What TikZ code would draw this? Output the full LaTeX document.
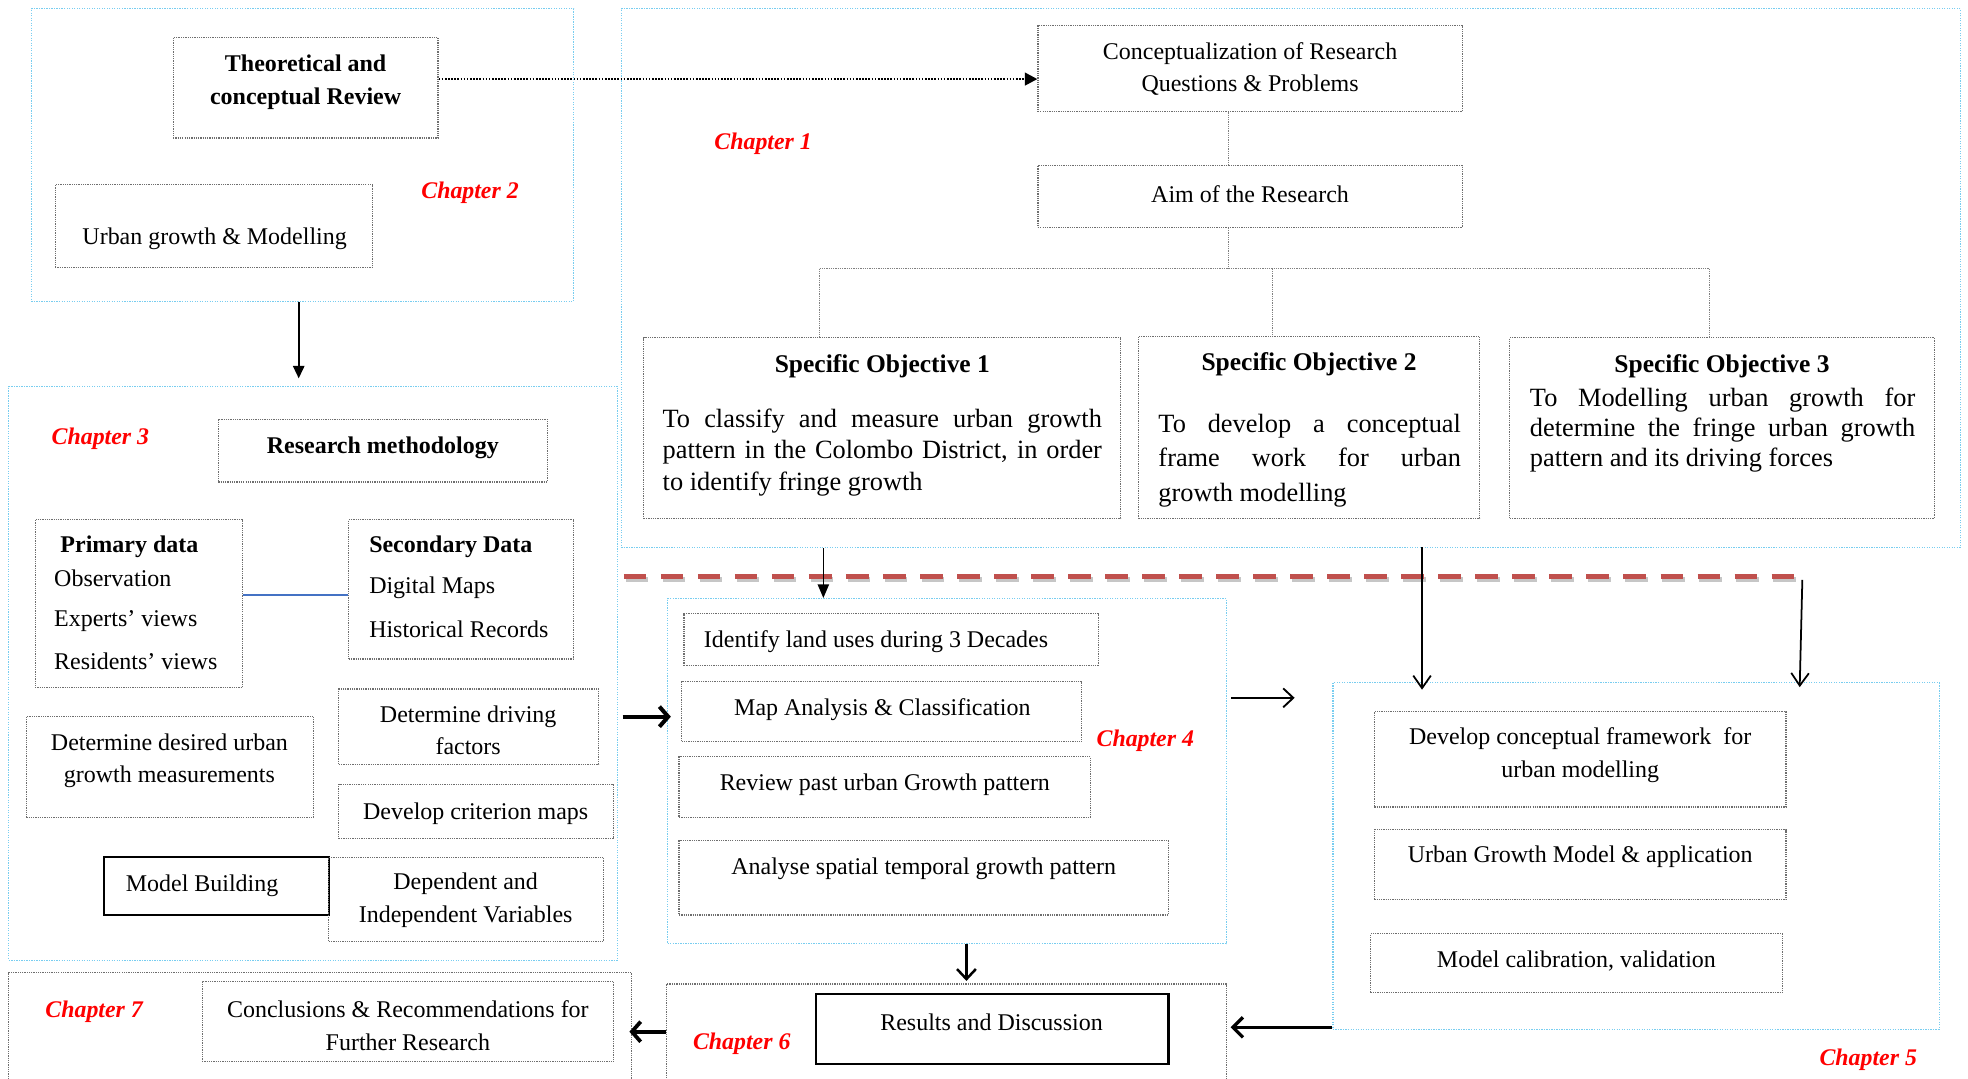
\documentclass[tikz,border=0pt]{standalone}
\usepackage{fontspec}
\setmainfont{Liberation Serif}
\usetikzlibrary{arrows.meta,fit,calc}
\definecolor{chblue}{RGB}{120,205,240}
\definecolor{boxgray}{RGB}{110,110,110}
\definecolor{dashred}{RGB}{192,80,77}
\definecolor{linkblue}{RGB}{68,114,196}
\newcommand\fsn{\fontsize{19.1}{26}\selectfont}
\newcommand\fst{\fontsize{20.3}{25}\selectfont\bfseries}
\newcommand\fsc{\fontsize{19}{23}\selectfont\bfseries\itshape}
\begin{document}
\begin{tikzpicture}[x=1pt,y=-1pt,
  chap/.style={draw=chblue, line width=1pt, dash pattern=on 1pt off 1pt, inner sep=0pt},
  gbox/.style={draw=boxgray, line width=0.9pt, dash pattern=on 1pt off 0.8pt, inner sep=0pt},
  sbox/.style={draw=black, line width=1.8pt, inner sep=0pt},
  txt/.style={font=\fsn, inner sep=0pt, align=center, yshift=-2.5pt},
  btxt/.style={font=\fsn\bfseries, inner sep=0pt, align=center, yshift=-2.5pt},
  ttxt/.style={font=\fst, inner sep=0pt, align=center, yshift=-2.5pt},
  chlab/.style={font=\fsc, text=red, inner sep=0pt, yshift=-2.5pt},
  otxt/.style={inner sep=0pt, align=justify, yshift=-2.5pt},
  tree/.style={draw=gray, line width=0.7pt, dash pattern=on 1pt off 0.8pt},
  barb/.style={-{Straight Barb[length=8pt,width=15pt]}},
  tri/.style={-{Triangle[length=10pt,width=9pt]}}
]
\useasboundingbox (0,0) rectangle (1568,859);
\clip (0,0) rectangle (1568,859);
\fill[white] (0,0) rectangle (1568,859);

% ---------- Chapter 2
\node[chap, fit={(25,7) (457,240)}] (ch2) {};
\node[gbox, fit={(138,30) (349,110)}] (theory) {};
\node[btxt] (theoryT) at (243.5,63) {Theoretical and\\conceptual Review};
\node[gbox, fit={(44,147) (297,213)}] (ugm) {};
\node[txt] (ugmT) at (171,188) {Urban growth \& Modelling};
\node[chlab] (lab2) at (374.5,151) {Chapter 2};

% ---------- Chapter 1
\node[chap, fit={(495,7) (1562,436)}] (ch1) {};
\node[gbox, fit={(827,20) (1165,89)}] (concept) {};
\node[txt] (conceptT) at (996,52.5) {Conceptualization of Research\\Questions \& Problems};
\node[gbox, fit={(827,132) (1165,181)}] (aim) {};
\node[txt] (aimT) at (996,152) {Aim of the Research};
\node[chlab] (lab1) at (608,112) {Chapter 1};

\node[gbox, fit={(513,269) (893,413)}] (so1) {};
\node[ttxt] (so1h) at (703,289) {Specific Objective 1};
\node[otxt, text width=350pt, font=\fontsize{21}{25}\selectfont] (so1T) at (703,358)
  {To classify and measure urban growth\linebreak pattern in the Colombo District, in order\linebreak to identify fringe growth};
\node[gbox, fit={(907,268) (1179,413)}] (so2) {};
\node[ttxt] (so2h) at (1043,288) {Specific Objective 2};
\node[otxt, text width=241pt, font=\fontsize{21}{27.5}\selectfont] (so2T) at (1043.5,364.5)
  {To develop a conceptual\linebreak frame work for urban\linebreak growth modelling};
\node[gbox, fit={(1203,269) (1541,413)}] (so3) {};
\node[ttxt] (so3h) at (1372,289) {Specific Objective 3};
\node[otxt, text width=307pt, font=\fontsize{21}{24}\selectfont] (so3T) at (1372.5,340)
  {To Modelling urban growth for\linebreak determine the fringe urban growth\linebreak pattern and its driving forces};

\coordinate (j) at (979,214);
\coordinate (j1) at (653,214);
\coordinate (j2) at (1014,214);
\coordinate (j3) at (1362,214);
\draw[tree] (concept.south -| j) -- (aim.north -| j);
\draw[tree] (aim.south -| j) -- (j);
\draw[tree] (j1) -- (j3);
\draw[tree] (j1) -- (j1 |- so1.north);
\draw[tree] (j2) -- (j2 |- so2.north);
\draw[tree] (j3) -- (j3 |- so3.north);

% dotted arrow
\coordinate (th) at ([yshift=7pt]theory.east);
\draw[line width=2pt, dash pattern=on 1.3pt off 1.2pt, -{Triangle[length=10pt,width=10pt]}] (th) -- (th -| concept.west);

% ---------- Chapter 3
\node[chap, fit={(7,308) (492,765)}] (ch3) {};
\node[chlab] (lab3) at (80,347) {Chapter 3};
\node[gbox, fit={(174,334) (436,384)}] (rm) {};
\node[btxt] (rmT) at (305,354) {Research methodology};
\node[gbox, fit={(28,414) (193,548)}] (prim) {};
\node[btxt, anchor=west] (primT) at (48,433) {Primary data};
\node[txt, anchor=west] (obsT) at (43,458) {Observation};
\node[txt, anchor=west] (expT) at (43,492) {Experts’ views};
\node[txt, anchor=west] (resT) at (43,524) {Residents’ views};
\node[gbox, fit={(278,414) (457,525)}] (sec) {};
\node[btxt, anchor=west] (secT) at (294,433) {Secondary Data};
\node[txt, anchor=west] (dmT) at (294,466) {Digital Maps};
\node[txt, anchor=west] (hrT) at (294,499) {Historical Records};
\coordinate (pe) at ([yshift=7pt]prim.east);
\draw[linkblue, line width=1.2pt] (pe) -- (pe -| sec.west);
\node[gbox, fit={(21,571) (250,651)}] (ddu) {};
\node[txt] (dduT) at (135,603.5) {Determine desired urban\\growth measurements};
\node[gbox, fit={(270,549) (477,609)}] (ddf) {};
\node[txt] (ddfT) at (373,579.5) {Determine driving\\factors};
\node[gbox, fit={(270,625) (489,668)}] (dcm) {};
\node[txt] (dcmT) at (379,646) {Develop criterion maps};
\node[sbox, line width=1.5pt, fit={(83,683) (262,729)}] (mb) {};
\node[txt] (mbT) at (161,703) {Model Building};
\node[gbox, fit={(262,683) (481,750)}] (div) {};
\node[txt] (divT) at (371,714.5) {Dependent and\\Independent Variables};

% ch2 -> ch3
\coordinate (c23) at ([xshift=-3pt]ch2.south);
\draw[line width=1.6pt, tri, shorten >=6pt] (c23) -- (c23 |- ch3.north);

% ---------- red dashed separator
\coordinate (r1) at (497,459);
\coordinate (r2) at (1435,459);
\draw[gray!45, line width=4pt, dash pattern=on 18pt off 11.5pt, transform canvas={xshift=1.5pt,yshift=-2.5pt}] (r1) -- (r2);
\draw[dashred, line width=4pt, dash pattern=on 18pt off 11.5pt] (r1) -- (r2);

% ---------- Chapter 4
\node[chap, fit={(532,477) (977,752)}] (ch4) {};
\node[gbox, fit={(545,489) (875,530)}] (ident) {};
\node[txt] (identT) at (698,509) {Identify land uses during 3 Decades};
\node[gbox, fit={(543,543) (862,591)}] (mapan) {};
\node[txt] (mapanT) at (703,563) {Map Analysis \& Classification};
\node[gbox, fit={(541,603) (869,651)}] (rev) {};
\node[txt] (revT) at (705,623) {Review past urban Growth pattern};
\node[gbox, fit={(541,670) (931,729)}] (ana) {};
\node[txt] (anaT) at (736,690) {Analyse spatial temporal growth pattern};
\node[chlab] (lab4) at (912.5,588) {Chapter 4};

% ch1 (SO1) -> ch4
\coordinate (a1) at ([xshift=-47pt]so1.south |- ch1.south);
\draw[line width=1.3pt, -{Triangle[length=11pt,width=9pt]}] (a1) -- (a1 |- ch4.north);
% ch3 -> ch4
\coordinate (t1) at (496,571);
\draw[line width=3.2pt, -{Straight Barb[length=7pt,width=16pt]}, shorten >=-3pt] (t1) -- (t1 -| ch4.west);

% ---------- Chapter 5
\node[chap, fit={(1062,544) (1545,820)}] (ch5) {};
\node[gbox, fit={(1095,567) (1423,643)}] (dcf) {};
\node[txt] (dcfT) at (1259,599) {Develop conceptual framework\ \ for\\urban modelling};
\node[gbox, fit={(1095,661) (1423,717)}] (ugma) {};
\node[txt] (ugmaT) at (1259,680) {Urban Growth Model \& application};
\node[gbox, fit={(1092,744) (1420,791)}] (mcal) {};
\node[txt] (mcalT) at (1256,763) {Model calibration, validation};
\node[chlab] (lab5) at (1488.5,842) {Chapter 5};

% ch4 -> ch5
\coordinate (c45) at (981,556);
\draw[line width=1.5pt, barb, shorten >=30pt] (c45) -- (c45 -| ch5.west);

\coordinate (d1) at (1133,436);
\draw[line width=1.4pt, -{Straight Barb[length=10pt,width=14pt]}, shorten >=-6pt] (d1) -- (d1 |- ch5.north);
\coordinate (d2) at (1436,462);
\coordinate (d2e) at ([xshift=-2pt]d2 |- ch5.north);
\draw[line width=1.4pt, -{Straight Barb[length=10pt,width=14pt]}, shorten >=-4pt] (d2) -- (d2e);

% ---------- Chapter 6
\node[gbox, fit={(531,784) (977,880)}] (ch6) {};
\node[sbox, fit={(650,792) (931,848)}] (res) {};
\node[txt] (resT) at (790,812) {Results and Discussion};
\node[chlab] (lab6) at (591,829) {Chapter 6};

% ---------- Chapter 7
\node[gbox, fit={(7,775) (503,880)}] (ch7) {};
\node[chlab] (lab7) at (75,804) {Chapter 7};
\node[gbox, fit={(161,782) (489,846)}] (concl) {};
\node[txt] (conclT) at (325,814.5) {Conclusions \& Recommendations for\\Further Research};

% ch4 -> ch6
\coordinate (e1) at ([xshift=15.5pt]ch4.south);
\draw[line width=2pt, barb, shorten >=2pt] (e1) -- (e1 |- ch6.north);
% ch5 -> ch6
\coordinate (f1) at ([yshift=2pt]ch5.south west);
\draw[line width=2.6pt, -{Straight Barb[length=8pt,width=16pt]}, shorten >=3pt] (f1) -- (f1 -| ch6.east);
% ch6 -> ch7
\coordinate (g1) at (531,822);
\draw[line width=3pt, -{Straight Barb[length=7pt,width=16pt]}, shorten >=-2pt] (g1) -- (g1 -| ch7.east);
\end{tikzpicture}
\end{document}
